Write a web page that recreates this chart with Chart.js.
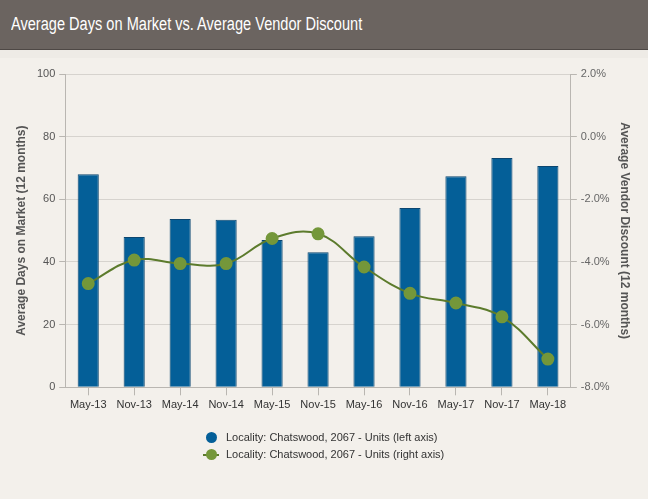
<!DOCTYPE html>
<html>
<head>
<meta charset="utf-8">
<script src="https://cdn.jsdelivr.net/npm/chart.js@4.4.1/dist/chart.umd.min.js"></script>
<style>
  body { margin: 0; background: #f3f0eb; width: 648px; height: 499px; overflow: hidden; font-family: "Liberation Sans", Arial, sans-serif; }
  .title-bar { height: 49px; background: #6b6460; border-bottom: 1px solid #4e4845; color: #fff; overflow: hidden;
    font-size: 18px; line-height: 49px; padding-left: 11px; }
  .title-bar span { display: inline-block; transform: scaleX(0.81); transform-origin: left center; white-space: nowrap; }
  .strip { height: 8px; background: #eeebe6; }
  .wrap { position: absolute; left: 0; top: 50px; width: 648px; height: 449px; }
  #legend { position: absolute; left: 202px; top: 429px; font-size: 11px; color: #333; }
  #legend div { height: 17px; line-height: 17px; position: relative; padding-left: 24px; white-space: nowrap; }
  .dot { position: absolute; top: 3px; width: 11px; height: 11px; border-radius: 50%; }
  .ln { position: absolute; top: 8px; left: 1px; width: 16px; height: 2px; }
</style>
</head>
<body>
<div class="title-bar"><span>Average Days on Market vs. Average Vendor Discount</span></div>
<div class="strip"></div>
<div class="wrap"><canvas id="chart" width="648" height="449"></canvas></div>
<div id="legend"></div>
<script>
// категории и значения
const periods = ['May-13', 'Nov-13', 'May-14', 'Nov-14', 'May-15', 'Nov-15', 'May-16', 'Nov-16', 'May-17', 'Nov-17', 'May-18'];
const daysOnMarket = [68, 48, 53.7, 53.5, 47, 43.1, 48.2, 57.2, 67.4, 73.2, 70.6];
const vendorDiscount = [-4.69, -3.94, -4.05, -4.05, -3.25, -3.1, -4.16, -5.0, -5.31, -5.75, -7.1];
const seriesNames = ['Locality: Chatswood, 2067 - Units (left axis)', 'Locality: Chatswood, 2067 - Units (right axis)'];

const barColor = '#045f98';
const lineColor = '#5c7b2c';
const pointColor = '#74973a';
const gridColor = '#d6d3ce';
const axisColor = '#b9b6b1';

const isMajor = (v, step) => Math.abs(v / step - Math.round(v / step)) < 1e-6;

const chart = new Chart(document.getElementById('chart'), {
    type: 'bar',
    data: {
        labels: periods,
        datasets: [{
            label: seriesNames[0],
            data: daysOnMarket,
            backgroundColor: barColor,
            borderColor: '#0b4670',
            borderWidth: 1,
            barPercentage: 0.46,
            categoryPercentage: 1,
            yAxisID: 'y',
            order: 2
        }, {
            type: 'line',
            label: seriesNames[1],
            data: vendorDiscount,
            borderColor: lineColor,
            borderWidth: 2,
            backgroundColor: pointColor,
            pointBackgroundColor: pointColor,
            pointBorderColor: pointColor,
            pointRadius: 5.5,
            tension: 0.4,
            yAxisID: 'y1',
            order: 1
        }]
    },
    options: {
        responsive: false,
        animation: false,
        layout: { padding: { left: 10.5, right: 12, top: 24, bottom: 84.5 } },
        plugins: { legend: { display: false }, tooltip: { enabled: false } },
        scales: {
            x: {
                offset: true,
                grid: { offset: false, drawOnChartArea: false, tickLength: 8, tickColor: axisColor },
                border: { color: axisColor },
                ticks: { color: '#333', font: { size: 11, family: 'Liberation Sans' }, maxRotation: 0, autoSkip: false, padding: 3 }
            },
            y: {
                position: 'left',
                min: 0, max: 100,
                ticks: {
                    stepSize: 4, autoSkip: false, color: '#555', padding: 4,
                    font: { size: 11, family: 'Liberation Sans' },
                    callback: v => isMajor(v, 20) ? v : null
                },
                grid: {
                    color: ctx => isMajor(ctx.tick.value, 20) ? gridColor : 'rgba(0,0,0,0)',
                    tickColor: axisColor, tickLength: 6
                },
                border: { color: axisColor },
                title: { display: true, text: 'Average Days on Market (12 months)', color: '#555',
                    font: { size: 12, weight: 'bold', family: 'Liberation Sans' }, padding: 4 }
            },
            y1: {
                position: 'right',
                min: -8, max: 2,
                ticks: {
                    stepSize: 0.4, autoSkip: false, color: '#666', padding: 4,
                    font: { size: 11, family: 'Liberation Sans' },
                    callback: v => isMajor(v, 2) ? (Math.round(v * 10) / 10).toFixed(1) + '%' : null
                },
                grid: { drawOnChartArea: false, tickColor: axisColor, tickLength: 6 },
                border: { color: axisColor },
                title: { display: true, text: 'Average Vendor Discount (12 months)', color: '#555',
                    font: { size: 12, weight: 'bold', family: 'Liberation Sans' }, padding: 4 }
            }
        }
    }
});

// легенда в HTML, чтобы оба пункта шли столбиком
const legend = document.getElementById('legend');
chart.data.datasets.forEach((ds, i) => {
    const row = document.createElement('div');
    if (i === 0) {
        row.innerHTML = `<span class="dot" style="left:4px;background:${ds.backgroundColor}"></span>`;
    } else {
        row.innerHTML = `<span class="ln" style="background:${ds.borderColor}"></span>` +
            `<span class="dot" style="left:4px;background:${ds.pointBackgroundColor}"></span>`;
    }
    row.appendChild(document.createTextNode(ds.label));
    legend.appendChild(row);
});
</script>
</body>
</html>
